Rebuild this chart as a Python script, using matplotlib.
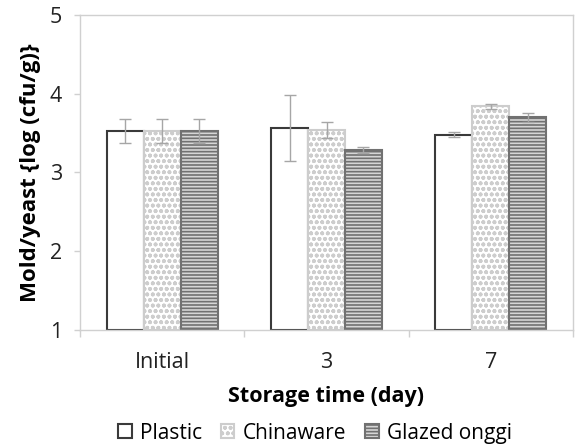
import matplotlib
matplotlib.use("Agg")
import matplotlib.pyplot as plt
import numpy as np
from matplotlib.patches import Patch

categories = ["Initial", "3", "7"]
series = ["Plastic", "Chinaware", "Glazed onggi"]
plastic = [3.53, 3.57, 3.48]
plastic_err = [0.15, 0.42, 0.035]
chinaware = [3.53, 3.54, 3.84]
chinaware_err = [0.15, 0.105, 0.03]
glazed = [3.53, 3.29, 3.70]
glazed_err = [0.15, 0.04, 0.06]
yticks = [1, 2, 3, 4, 5]

plt.rcParams['font.family'] = ['Open Sans', 'DejaVu Sans']
plt.rcParams['hatch.linewidth'] = 1.2

fig = plt.figure(figsize=(5.78, 4.48), dpi=100)
ax = fig.add_axes([80/578, 1-330/448, (573-80)/578, (330-15)/448])

x = np.arange(len(categories))
w = 0.225
styles = [
    dict(facecolor="white", edgecolor="#3a3a3a", hatch=None, linewidth=1.5),
    dict(facecolor="white", edgecolor="#cdcdcd", hatch="ooo", linewidth=1.5),
    dict(facecolor="#d6d6d6", edgecolor="#717171", hatch="-----", linewidth=1.5),
]
vals = [plastic, chinaware, glazed]
errs = [plastic_err, chinaware_err, glazed_err]
handles = []
for i, (v, e, st) in enumerate(zip(vals, errs, styles)):
    pos = x + (i - 1) * w
    ax.bar(pos, np.array(v) - 1, bottom=1, width=w, **st, zorder=2)
    ax.errorbar(pos, v, yerr=e, fmt="none", ecolor="#a6a6a6", elinewidth=1.0,
                capsize=4.5, capthick=1.0, zorder=3)
    handles.append(Patch(**st, label=series[i]))

ax.set_xlim(-0.5, 2.5)
ax.set_ylim(1, 5)
ax.set_yticks(yticks)
ax.set_xticks(x)
ax.set_xticklabels(categories)
ax.set_xticks([-0.5, 0.5, 1.5, 2.5], minor=True)
ax.tick_params(axis="x", which="major", length=0, labelsize=15.5, pad=16, colors="#222222")
ax.tick_params(axis="x", which="minor", length=5, color="#d0d0d0", width=1)
ax.tick_params(axis="y", length=4, width=1, labelsize=15.5, pad=9, colors="#d0d0d0", labelcolor="#222222")
for s in ax.spines.values():
    s.set_color("#d0d0d0")
    s.set_linewidth(1.0)

ax.set_xlabel("Storage time (day)", fontsize=15.5, fontweight="bold", labelpad=9)
ax.set_ylabel("Mold/yeast {log (cfu/g)}", fontsize=16, fontweight="bold", labelpad=6)

fig.legend(handles=handles, loc="center", bbox_to_anchor=(0.545, 1-433/448),
           ncol=3, frameon=False, fontsize=15, handlelength=0.65, handleheight=0.65,
           handletextpad=0.4, columnspacing=0.9, borderpad=0)

fig.savefig("out.png", dpi=100)
